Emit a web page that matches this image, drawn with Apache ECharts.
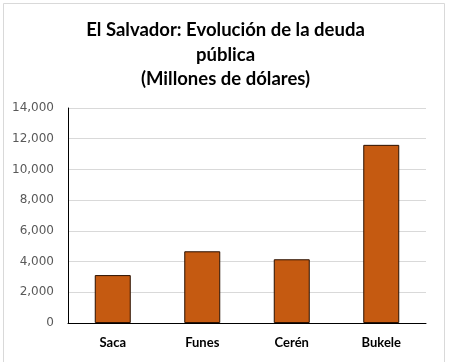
<!DOCTYPE html>
<html><head><meta charset="utf-8">
<script src="https://cdn.jsdelivr.net/npm/echarts@6/dist/echarts.min.js"></script>
<style>html,body{margin:0;padding:0;background:#fff}#c{width:451px;height:362px}</style>
</head><body><div id="c"></div>
<script>
var titleText = "El Salvador: Evolución de la deuda\npública\n(Millones de dólares)";
var categories = ["Saca", "Funes", "Cerén", "Bukele"];
var deuda = [3120, 4670, 4150, 11600];
var yTicks = { min: 0, max: 14000, interval: 2000 };

var chart = echarts.init(document.getElementById('c'), null, {renderer: 'canvas'});
chart.setOption({
  backgroundColor: '#ffffff',
  animation: false,
  graphic: [
    {type: 'rect', shape: {x: 3.5, y: 3.5, width: 441, height: 370}, style: {fill: 'none', stroke: '#d9d9d9', lineWidth: 1}, z: -1}
  ],
  title: {
    text: titleText,
    left: 'center',
    top: 13,
    textStyle: {fontFamily: 'Lato', fontWeight: 'bold', fontSize: 18.5, lineHeight: 24.5, color: '#000'}
  },
  grid: {left: 68, right: 25, top: 108, bottom: 39, containLabel: false},
  xAxis: {
    type: 'category',
    data: categories,
    axisLine: {lineStyle: {color: '#000', width: 1}},
    axisTick: {show: false},
    axisLabel: {fontFamily: 'Lato', fontWeight: 'bold', fontSize: 13, color: '#000', margin: 13}
  },
  yAxis: {
    type: 'value',
    min: yTicks.min, max: yTicks.max, interval: yTicks.interval,
    axisLine: {show: true, lineStyle: {color: '#000', width: 1}},
    axisTick: {show: false},
    splitLine: {lineStyle: {color: '#d9d9d9', width: 1}},
    axisLabel: {fontFamily: 'DejaVu Sans', fontSize: 12, color: '#595959', margin: 14,
      formatter: function (v) { return v.toLocaleString('en-US'); }}
  },
  series: [{
    type: 'bar',
    data: deuda,
    barWidth: 36,
    itemStyle: {color: '#c55a11', borderColor: '#2a1000', borderWidth: 1}
  }]
});
</script></body></html>
